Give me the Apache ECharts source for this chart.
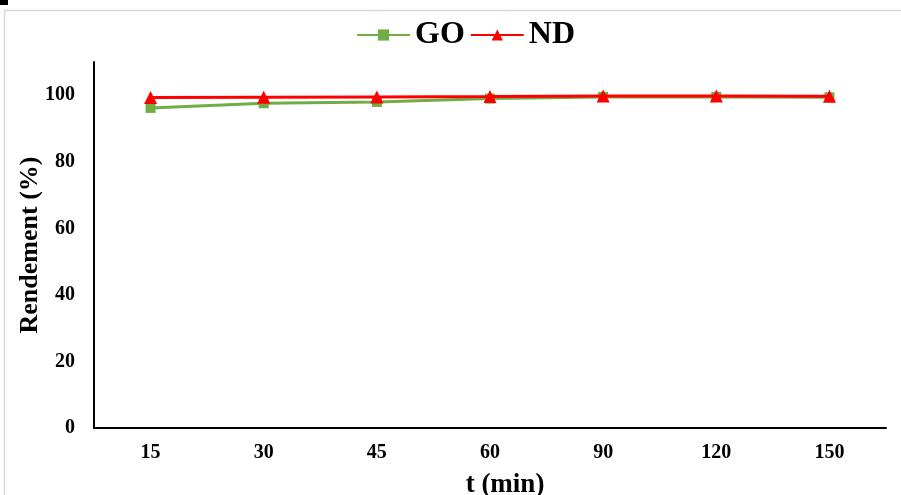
<!DOCTYPE html>
<html><head><meta charset="utf-8">
<script src="https://cdn.jsdelivr.net/npm/echarts@6/dist/echarts.min.js"></script>
<style>html,body{margin:0;padding:0;background:#fff}#c{width:901px;height:495px}</style>
</head><body><div id="c"></div>
<script>
const categories = ['15','30','45','60','90','120','150'];
const goValues = [96.2, 97.6, 98.0, 99.0, 99.5, 99.5, 99.4];
const ndValues = [99.3, 99.4, 99.5, 99.6, 99.8, 99.8, 99.7];
const yTicks = [0, 20, 40, 60, 80, 100];

const chart = echarts.init(document.getElementById('c'), null, {renderer:'canvas'});
const font = '"Liberation Serif","Times New Roman",serif';
chart.setOption({
  animation: false,
  graphic: [
    {type:'rect', shape:{x:4.5,y:10.5,width:920,height:500}, style:{fill:null, stroke:'#d9d9d9', lineWidth:1.5}},
    {type:'rect', shape:{x:0,y:0,width:8,height:5}, style:{fill:'#000'}}
  ],
  legend: {
    top: 14, left: 351, itemGap: 5, itemWidth: 53, itemHeight: 14,
    textStyle: {fontFamily: font, fontWeight: 'bold', fontSize: 32, color: '#000'},
    data: ['GO','ND']
  },
  grid: {left: 94, right: 15, top: 62, bottom: 67, outerBoundsMode: 'none', containLabel: false},
  xAxis: {
    type: 'category', data: categories, boundaryGap: true,
    axisLine: {lineStyle: {color: '#000', width: 2}},
    axisTick: {show: false},
    axisLabel: {fontFamily: font, fontWeight: 'bold', fontSize: 20, color: '#000', margin: 15},
    name: 't (min)', nameLocation: 'middle', nameGap: 44, nameMoveOverlap: false,
    nameTextStyle: {fontFamily: font, fontWeight: 'bold', fontSize: 27, color: '#000', padding:[0,0,0,30]}
  },
  yAxis: {
    type: 'value', min: 0, max: 110, interval: 20,
    axisLine: {show: true, lineStyle: {color: '#000', width: 2}},
    axisTick: {show: false},
    splitLine: {show: false},
    axisLabel: {fontFamily: font, fontWeight: 'bold', fontSize: 20, color: '#000', margin: 19,
      formatter: v => yTicks.indexOf(v) >= 0 ? String(v) : ''},
    name: 'Rendement (%)', nameLocation: 'middle', nameGap: 51, nameMoveOverlap: false,
    nameTextStyle: {fontFamily: font, fontWeight: 'bold', fontSize: 26, color: '#000'}
  },
  series: [
    {name:'GO', type:'line', data: goValues, symbol:'rect', symbolSize: 10,
     lineStyle:{color:'#70AD47', width:3}, itemStyle:{color:'#70AD47'}, z: 2},
    {name:'ND', type:'line', data: ndValues, symbol:'triangle', symbolSize: 13,
     lineStyle:{color:'#FF0000', width:3}, itemStyle:{color:'#FF0000'}, z: 3}
  ]
});
</script></body></html>
